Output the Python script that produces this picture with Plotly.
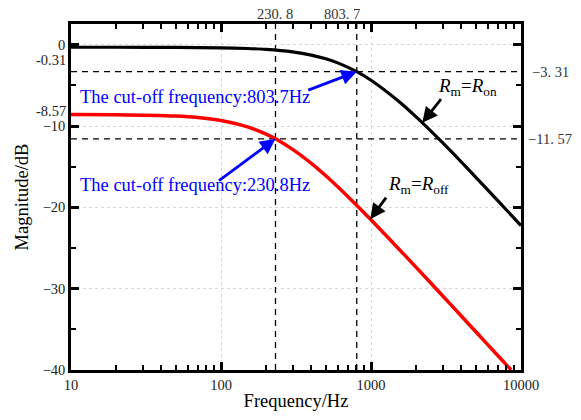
import math
import plotly.graph_objects as go

# ---- data ----
freq_on = [10, 20, 50, 100, 150, 200, 300, 400, 500, 600, 803.7, 1000, 1500, 2000, 3000, 4000, 5000, 7000, 10000]
mag_on = [-0.31, -0.31, -0.33, -0.38, -0.46, -0.57, -0.88, -1.27, -1.73, -2.23, -3.31, -4.37, -6.83, -8.88, -12.05, -14.42, -16.30, -19.17, -22.24]

freq_off = [10, 20, 50, 70, 100, 150, 200, 230.8, 300, 400, 500, 700, 1000, 1500, 2000, 3000, 4000, 5000, 7000, 8600]
mag_off = [-8.58, -8.60, -8.77, -8.95, -9.32, -10.10, -11.00, -11.57, -12.87, -14.59, -16.12, -18.66, -21.53, -24.93, -27.38, -30.87, -33.36, -35.30, -38.21, -40.0]

cutoff_freqs = [230.8, 803.7]
cutoff_labels = ["230. 8", "803. 7"]
cutoff_mags = [-3.31, -11.57]
cutoff_mag_labels = ["\u22123. 31", "\u221211. 57"]
dc_labels = ["-0.31", "-8.57"]

x_ticks = [10, 100, 1000, 10000]
x_ticktext = ["10", "100", "1000", "10000"]
x_minor = [20, 30, 40, 50, 60, 70, 80, 90,
           200, 300, 400, 500, 600, 700, 800, 900,
           2000, 3000, 4000, 5000, 6000, 7000, 8000, 9000]
y_ticks = [0, -10, -20, -30, -40]
y_ticktext = ["0", "\u221210", "\u221220", "\u221230", "\u221240"]
y_minor = [-5, -15, -25, -35]

FONT = "Liberation Serif"
YMAX = 2.55
YMIN = -40

fig = go.Figure()

# dashed guide lines
for m in cutoff_mags:
    fig.add_trace(go.Scatter(x=[10, 10000], y=[m, m], mode="lines",
                             line=dict(color="black", width=1.3, dash="6px,5px"),
                             hoverinfo="skip", showlegend=False))
for f in cutoff_freqs:
    fig.add_trace(go.Scatter(x=[f, f], y=[YMIN, YMAX], mode="lines",
                             line=dict(color="black", width=1.3, dash="6px,5px"),
                             hoverinfo="skip", showlegend=False))

fig.add_trace(go.Scatter(x=freq_on, y=mag_on, mode="lines",
                         line=dict(color="black", width=3.2, shape="spline", smoothing=0.6),
                         showlegend=False))
fig.add_trace(go.Scatter(x=freq_off, y=mag_off, mode="lines",
                         line=dict(color="#ff0000", width=3.5, shape="spline", smoothing=0.6),
                         showlegend=False))
# invisible carrier trace for the minor-tick overlay axes
fig.add_trace(go.Scatter(x=freq_on, y=mag_on, mode="lines", xaxis="x2", yaxis="y2",
                         line=dict(color="rgba(0,0,0,0)", width=0),
                         hoverinfo="skip", showlegend=False))

ann = []
ann.append(dict(x=1.045, y=-6.4, xref="x", yref="y", text="The cut-off frequency:803.7Hz",
                showarrow=False, xanchor="left", yanchor="middle",
                font=dict(family=FONT, size=18.5, color="#0000ff")))
ann.append(dict(x=1.045, y=-17.2, xref="x", yref="y", text="The cut-off frequency:230.8Hz",
                showarrow=False, xanchor="left", yanchor="middle",
                font=dict(family=FONT, size=18.5, color="#0000ff")))
ann.append(dict(x=math.log10(cutoff_freqs[1]), y=cutoff_mags[0], xref="x", yref="y", text="",
                showarrow=True, ax=-50, ay=19, arrowhead=2, arrowsize=1.1, arrowwidth=2.8,
                arrowcolor="#0000ff", standoff=0))
ann.append(dict(x=math.log10(cutoff_freqs[0]), y=cutoff_mags[1], xref="x", yref="y", text="",
                showarrow=True, ax=-58, ay=43, arrowhead=2, arrowsize=1.1, arrowwidth=2.8,
                arrowcolor="#0000ff", standoff=0))
ann.append(dict(x=math.log10(4385), y=-5.2, xref="x", yref="y",
                text="<i>R</i><sub>m</sub>=<i>R</i><sub>on</sub>",
                showarrow=False, font=dict(family=FONT, size=19, color="black")))
ann.append(dict(x=math.log10(2196), y=-9.59, xref="x", yref="y", text="",
                showarrow=True, ax=20, ay=-25, arrowhead=2, arrowsize=1.1, arrowwidth=2.8,
                arrowcolor="black", standoff=0))
ann.append(dict(x=math.log10(2065), y=-17.2, xref="x", yref="y",
                text="<i>R</i><sub>m</sub>=<i>R</i><sub>off</sub>",
                showarrow=False, font=dict(family=FONT, size=19, color="black")))
ann.append(dict(x=math.log10(988), y=-21.45, xref="x", yref="y", text="",
                showarrow=True, ax=17, ay=-23, arrowhead=2, arrowsize=1.1, arrowwidth=2.8,
                arrowcolor="black", standoff=0))

top_x = [math.log10(cutoff_freqs[0]), math.log10(cutoff_freqs[1]) - 0.1]
for xv, lab in zip(top_x, cutoff_labels):
    ann.append(dict(x=xv, y=1, xref="x", yref="paper", yanchor="bottom", yshift=0,
                    text=lab, showarrow=False, font=dict(family=FONT, size=14.5, color="#333")))
for m, lab in zip(cutoff_mags, cutoff_mag_labels):
    ann.append(dict(x=1.065, y=m, xref="paper", yref="y", xanchor="center",
                    text=lab, showarrow=False, font=dict(family=FONT, size=14.5, color="#333")))
for yv, lab in zip([-1.9, -8.2], dc_labels):
    ann.append(dict(x=-0.006, y=yv, xref="paper", yref="y", xanchor="right",
                    text=lab, showarrow=False, font=dict(family=FONT, size=14.5, color="#222")))

fig.update_layout(
    width=581, height=420,
    margin=dict(l=71, r=60, t=24, b=34),
    paper_bgcolor="white", plot_bgcolor="white",
    font=dict(family=FONT, size=14.5, color="#222"),
    annotations=ann,
    xaxis=dict(type="log", range=[1, 4], tickmode="array", tickvals=x_ticks, ticktext=x_ticktext,
               showline=True, linecolor="black", linewidth=2.5, mirror="ticks",
               ticks="inside", ticklen=8, tickwidth=2.5, tickcolor="black",
               showgrid=True, gridcolor="#d8d8d8", griddash="dot", gridwidth=1,
               zeroline=False,
               title=dict(text="Frequency/Hz", font=dict(family=FONT, size=18.5, color="black"), standoff=2)),
    yaxis=dict(range=[YMIN, YMAX], tickmode="array", tickvals=y_ticks, ticktext=y_ticktext,
               showline=True, linecolor="black", linewidth=2.5, mirror="ticks",
               ticks="inside", ticklen=8, tickwidth=2.5, tickcolor="black",
               showgrid=True, gridcolor="#d8d8d8", griddash="dot", gridwidth=1,
               zeroline=False,
               title=dict(text="Magnitude/dB", font=dict(family=FONT, size=18.5, color="black"), standoff=10)),
    xaxis2=dict(type="log", range=[1, 4], overlaying="x", anchor="y2", side="bottom",
                tickmode="array", tickvals=x_minor, ticks="inside", ticklen=5, tickwidth=2,
                tickcolor="black", showticklabels=False, showgrid=False, zeroline=False,
                showline=True, linecolor="black", linewidth=2.5, mirror="ticks"),
    yaxis2=dict(range=[YMIN, YMAX], overlaying="y", anchor="x2", side="left",
                tickmode="array", tickvals=y_minor, ticks="inside", ticklen=5, tickwidth=2,
                tickcolor="black", showticklabels=False, showgrid=False, zeroline=False,
                showline=True, linecolor="black", linewidth=2.5, mirror="ticks"),
)

fig.write_html("out.html")
